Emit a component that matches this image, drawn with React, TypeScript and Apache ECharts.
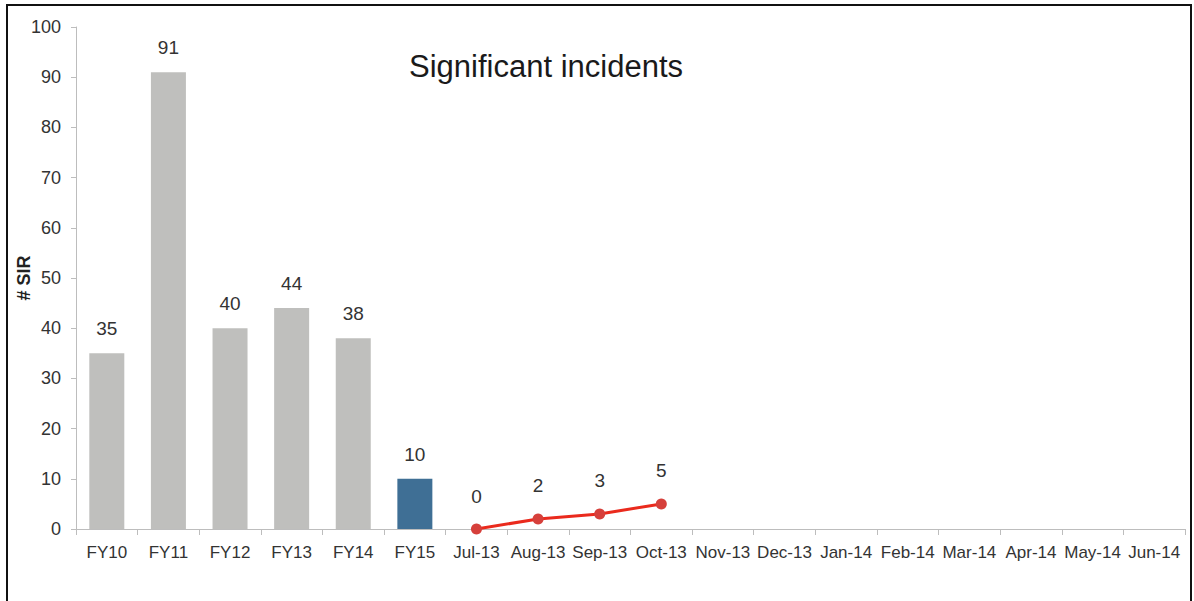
import React, { useEffect, useRef } from "react";
import * as echarts from "echarts";

const fyCategories = ["FY10", "FY11", "FY12", "FY13", "FY14", "FY15"];
const fyValues = [35, 91, 40, 44, 38, 10];
const monthCategories = [
  "Jul-13", "Aug-13", "Sep-13", "Oct-13", "Nov-13", "Dec-13",
  "Jan-14", "Feb-14", "Mar-14", "Apr-14", "May-14", "Jun-14",
];
const monthValues = [0, 2, 3, 5];
const yTicks = [0, 10, 20, 30, 40, 50, 60, 70, 80, 90, 100];

const title = "Significant incidents";
const yName = "# SIR";

export default function App() {
  const ref = useRef<HTMLDivElement>(null);
  useEffect(() => {
    if (!ref.current) return;
    const chart = echarts.init(ref.current, undefined, { renderer: "svg" });
    const categories = [...fyCategories, ...monthCategories];
    const barData = categories.map((c, i) =>
      i < fyValues.length
        ? {
            value: fyValues[i],
            itemStyle: { color: i === fyValues.length - 1 ? "#3f6f95" : "#bfbfbd" },
          }
        : null
    );
    const lineData = categories.map((c, i) => {
      const j = i - fyValues.length;
      return j >= 0 && j < monthValues.length ? monthValues[j] : null;
    });
    const font = "'Liberation Sans', Arial, sans-serif";
    chart.setOption({
      animation: false,
      backgroundColor: "#ffffff",
      title: {
        text: title,
        left: 541,
        top: 46,
        textAlign: "center",
        textStyle: { fontFamily: font, fontSize: 31, fontWeight: "normal", color: "#1a1a1a" },
      },
      graphic: [
        {
          type: "rect",
          shape: { x: 7, y: 5, width: 1184, height: 610 },
          style: { fill: "none", stroke: "#111", lineWidth: 2 },
          z: 10,
        },
        {
          type: "text",
          x: 24,
          y: 278,
          rotation: Math.PI / 2,
          style: {
            text: yName,
            font: "bold 18px 'Liberation Sans', Arial, sans-serif",
            fill: "#222",
            textAlign: "center",
            textVerticalAlign: "middle",
          },
        },
      ],
      grid: { left: 76, right: 9, top: 27, bottom: 72, containLabel: false },
      xAxis: {
        type: "category",
        data: categories,
        boundaryGap: true,
        axisLine: { lineStyle: { color: "#bdbdbd", width: 1 } },
        axisTick: { show: true, alignWithLabel: false, length: 6, lineStyle: { color: "#bdbdbd" } },
        axisLabel: {
          interval: 0,
          margin: 15,
          fontFamily: font,
          fontSize: 17,
          color: "#333",
        },
      },
      yAxis: {
        type: "value",
        min: yTicks[0],
        max: yTicks[yTicks.length - 1],
        interval: yTicks[1] - yTicks[0],
        splitLine: { show: false },
        axisLine: { show: true, lineStyle: { color: "#bdbdbd" } },
        axisTick: { show: true, length: 5, lineStyle: { color: "#bdbdbd" } },
        axisLabel: { fontFamily: font, fontSize: 18, color: "#333", margin: 15 },
      },
      series: [
        {
          type: "bar",
          data: barData,
          barWidth: 35,
          label: {
            show: true,
            position: "top",
            distance: 15,
            fontFamily: font,
            fontSize: 19,
            color: "#333",
          },
        },
        {
          type: "line",
          data: lineData,
          connectNulls: false,
          symbol: "circle",
          symbolSize: 11,
          lineStyle: { color: "#ea2a1d", width: 3 },
          itemStyle: { color: "#d6403b" },
          label: {
            show: true,
            position: "top",
            distance: 18,
            fontFamily: font,
            fontSize: 19,
            color: "#333",
          },
        },
      ],
    });
    return () => chart.dispose();
  }, []);
  return (
    <div
      ref={ref}
      style={{ position: "fixed", left: 0, top: 0, width: 1194, height: 601 }}
    />
  );
}
